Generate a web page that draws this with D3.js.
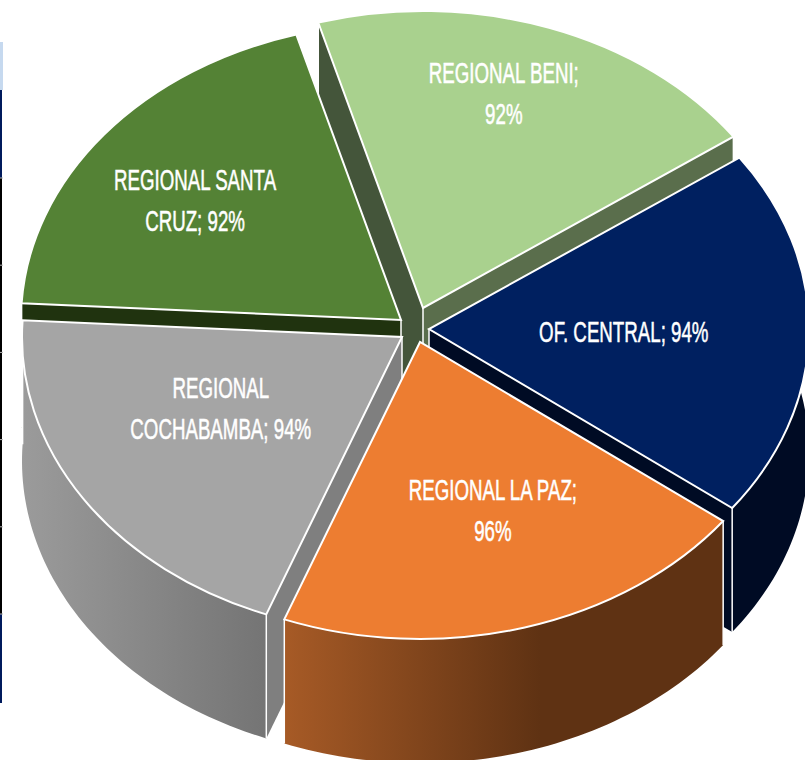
<!DOCTYPE html>
<html>
<head>
<meta charset="utf-8">
<script src="https://cdnjs.cloudflare.com/ajax/libs/d3/7.8.5/d3.min.js"></script>
<style>
  html, body { margin: 0; padding: 0; background: #fff; }
  svg { display: block; }
  .label { font-family: "Liberation Sans Narrow", "Liberation Sans", sans-serif; font-size: 29px; fill: #fff; stroke: #fff; stroke-width: 0.55px; text-anchor: middle; }
</style>
</head>
<body>
<div id="chart"></div>
<script>
var categories = ["REGIONAL BENI", "OF. CENTRAL", "REGIONAL LA PAZ", "REGIONAL COCHABAMBA", "REGIONAL SANTA CRUZ"];
var values = [92, 94, 96, 94, 92];
var labelLines = [
  ["REGIONAL BENI;", "92%"],
  ["OF. CENTRAL; 94%"],
  ["REGIONAL LA PAZ;", "96%"],
  ["REGIONAL", "COCHABAMBA; 94%"],
  ["REGIONAL SANTA", "CRUZ; 92%"]
];
var topColors = ["#a9d18e", "#002060", "#ed7d31", "#a5a5a5", "#548235"];
var startCutColors = ["#44553a", "#000b24", "#5f3213", "#7f7f7f", "#20330f"];
var endCutColors = ["#5a6e4c", "#000b24", "#5f3213", "#7f7f7f", "#20330f"];

var width = 805, height = 760;
var cx = 411, cy = 329,
    rx = 380, ry = 297,
    depth = 124,
    degToRad = Math.PI / 180;

/* how far each slice is pulled out of the centre, nudges for the labels */
var shiftX = [12, 18, 9, -9, -10],
    shiftY = [-21, 0, 13, 8, -9],
    labelAt = [0.72, 0.51, 0.6, 0.54, 0.67],
    labelDx = [-10, 1, 10, -9, -7],
    labelDy = [-13, 1, -2.5, -16, 5],
    drawOrder = [0, 4, 1, 3, 2];

var svg = d3.select("#chart").append("svg")
    .attr("width", width)
    .attr("height", height);

var defs = svg.append("defs");

function addWallGradient(id, x1, x2, c1, c2) {
  var g = defs.append("linearGradient")
    .attr("id", id)
    .attr("gradientUnits", "userSpaceOnUse")
    .attr("x1", x1).attr("x2", x2)
    .attr("y1", 0).attr("y2", 0);
  g.append("stop").attr("offset", 0).attr("stop-color", c1);
  g.append("stop").attr("offset", 1).attr("stop-color", c2);
}
addWallGradient("wall-paz", 287, 540, "#a65a26", "#5f3213");
addWallGradient("wall-cbba", 22, 268, "#9b9b9b", "#747474");

var wallFills = ["#5a6e4c", "#000b24", "url(#wall-paz)", "url(#wall-cbba)", "#20330f"];

/* the strip of the table behind the chart, cut off by the left edge */
var strip = svg.append("g");
strip.append("rect").attr("x", 0).attr("y", 42).attr("width", 3).attr("height", 48).attr("fill", "#c6d9ef");
strip.append("rect").attr("x", 0).attr("y", 90).attr("width", 2).attr("height", 613).attr("fill", "#000");
strip.append("rect").attr("x", 0).attr("y", 90).attr("width", 2).attr("height", 88).attr("fill", "#001a5c");
strip.append("rect").attr("x", 0).attr("y", 614).attr("width", 2).attr("height", 89).attr("fill", "#001a5c");
strip.selectAll("line").data(d3.range(178, 620, 87.2)).join("line")
    .attr("x1", 0).attr("x2", 3)
    .attr("y1", function(d) { return d; })
    .attr("y2", function(d) { return d; })
    .attr("stroke", "#b5b5b5");

var pie = d3.pie()
    .sort(null)
    .startAngle(-16 * degToRad)
    .endAngle(344 * degToRad);

var slices = pie(values);
var k = ry / rx;

var arc = d3.arc().innerRadius(0).outerRadius(rx);
var line = d3.line();

function point(o, a, r) {
  return [o[0] + r * rx * Math.sin(a), o[1] - r * ry * Math.cos(a)];
}

function down(p) {
  return [p[0], p[1] + depth];
}

function apex(i) {
  return [cx + shiftX[i], cy + shiftY[i]];
}

function cutFace(o, a) {
  var p = point(o, a, 1);
  return line([o, p, down(p), down(o)]) + "Z";
}

function outerWall(o, a0, a1) {
  var top = d3.range(0, 61).map(function(i) {
    return point(o, a0 + (a1 - a0) * i / 60, 1);
  });
  return line(top.concat(top.slice().reverse().map(down))) + "Z";
}

function edge(g, p) {
  g.append("path")
    .attr("d", line([p, down(p)]))
    .attr("stroke", "#fff")
    .attr("stroke-width", 1.5)
    .attr("fill", "none");
}

drawOrder.forEach(function(i) {
  var d = slices[i],
      o = apex(i);

  var g = svg.append("g").attr("class", "slice");

  g.append("path")
    .attr("d", outerWall(o, d.startAngle, d.endAngle))
    .attr("fill", wallFills[i]);

  /* a cut face only shows when it turns towards the viewer */
  if (Math.sin(d.startAngle) < 0) {
    g.append("path")
      .attr("d", cutFace(o, d.startAngle))
      .attr("fill", startCutColors[i]);
  }
  if (Math.sin(d.endAngle) > 0) {
    g.append("path")
      .attr("d", cutFace(o, d.endAngle))
      .attr("fill", endCutColors[i]);
  }

  edge(g, o);
  edge(g, point(o, d.startAngle, 1));
  edge(g, point(o, d.endAngle, 1));

  g.append("path")
    .attr("d", arc(d))
    .attr("transform", "translate(" + o[0] + "," + o[1] + ") scale(1," + k + ")")
    .attr("fill", topColors[i])
    .attr("stroke", "#fff").attr("stroke-width", 2)
    .attr("vector-effect", "non-scaling-stroke");
});

slices.forEach(function(d, i) {
  var mid = (d.startAngle + d.endAngle) / 2,
      p = point(apex(i), mid, labelAt[i]),
      lines = labelLines[i];

  var t = svg.append("text")
    .attr("class", "label")
    .attr("transform", "translate(" + (p[0] + labelDx[i]) + "," + (p[1] + labelDy[i]) + ") scale(0.645,1)");

  lines.forEach(function(s, j) {
    t.append("tspan")
      .attr("x", 0)
      .attr("y", (j - (lines.length - 1) / 2) * 41 + 10)
      .text(s);
  });
});
</script>
</body>
</html>
